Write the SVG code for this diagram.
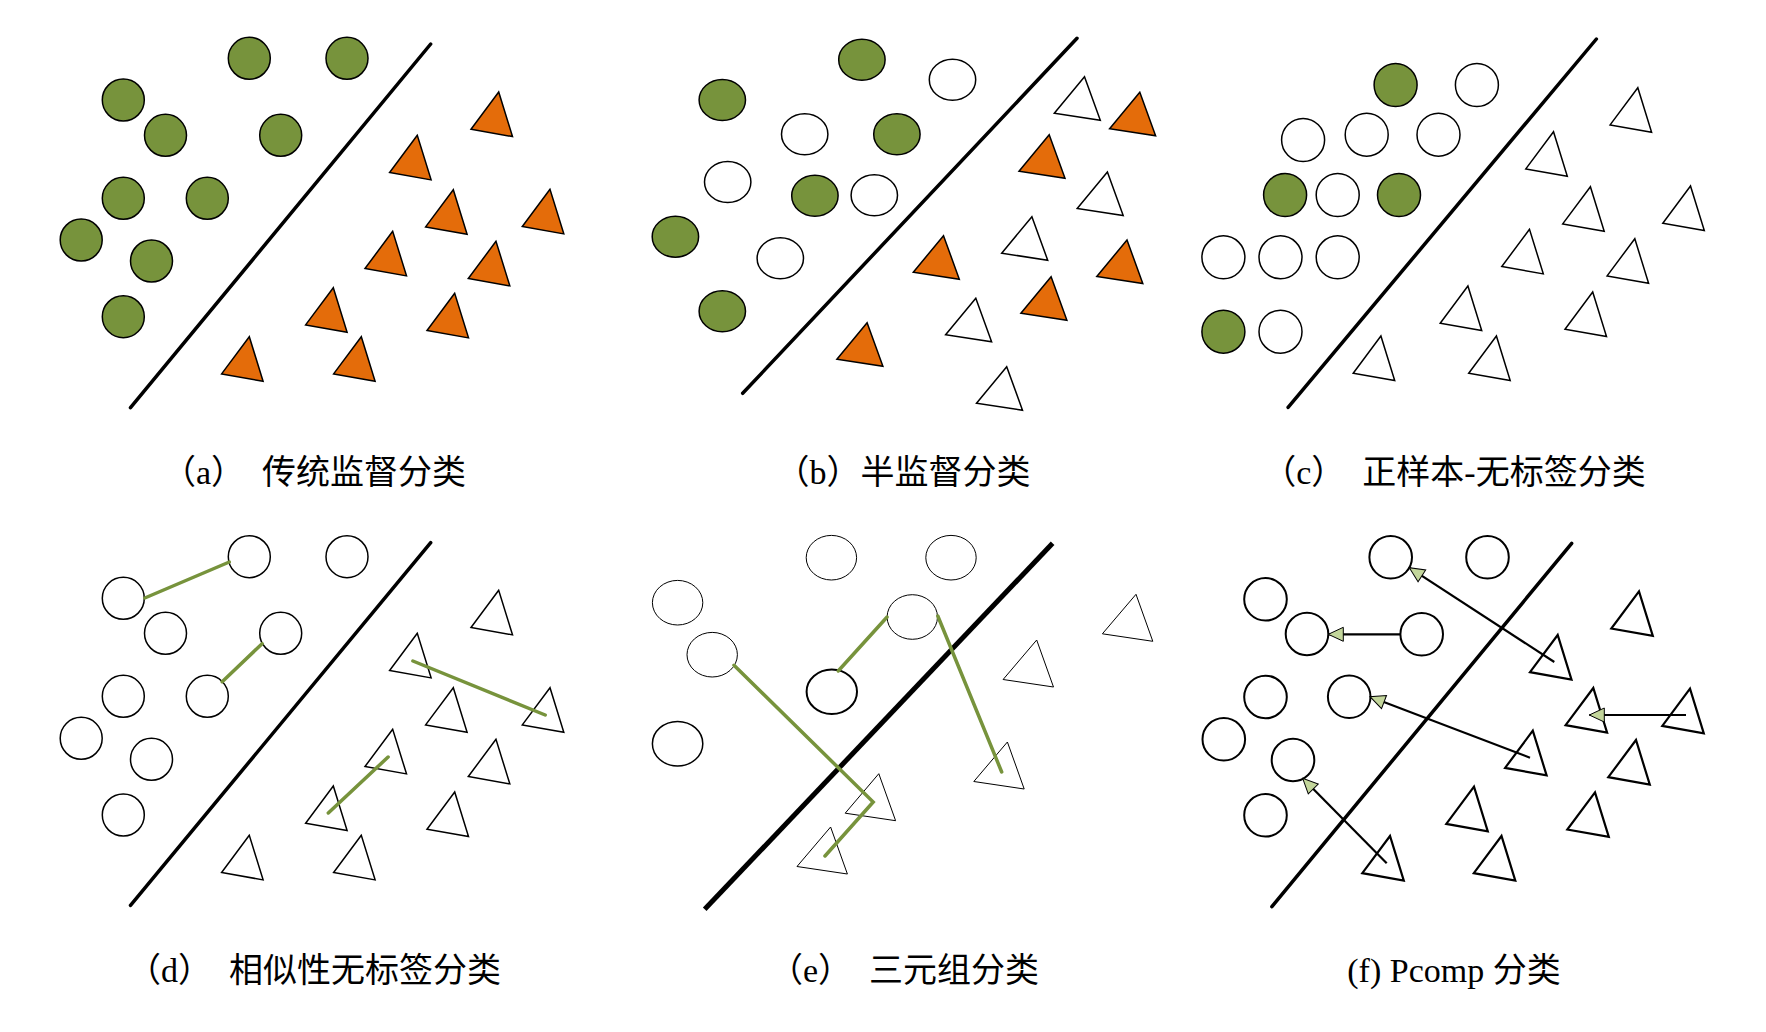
<svg xmlns="http://www.w3.org/2000/svg" width="1766" height="1032" viewBox="0 0 1766 1032">
<style>
.gc{fill:#77933C;stroke:#000;stroke-width:1.5}
.wc{fill:#fff;stroke:#000;stroke-width:1.5}
.wc1{fill:#fff;stroke:#000;stroke-width:1}
.wc2{fill:#fff;stroke:#000;stroke-width:2}
.ot{fill:#E46C0A;stroke:#000;stroke-width:1.5}
.wt{fill:#fff;stroke:#000;stroke-width:1.5}
.wt1{fill:#fff;stroke:#000;stroke-width:1}
.wt2{fill:#fff;stroke:#000;stroke-width:2.2}
.sep{stroke:#000;stroke-width:3.5;stroke-linecap:round;fill:none}
.sep5{stroke:#000;stroke-width:5;fill:none}
.gl{stroke:#77933C;stroke-width:3.5;stroke-linecap:round;stroke-linejoin:miter;fill:none}
.ar{stroke:#000;stroke-width:2.2;fill:none;marker-end:url(#ah)}
.cap{font-family:"Liberation Serif","Noto Sans CJK SC",serif;font-size:34px;fill:#000;text-anchor:middle}
</style>
<defs>
<path id="ta" d="M0,0 L-27.7,37.2 L13.8,44.6 Z"/>
<path id="tb" d="M0,0 L-30.2,36.5 L15.8,43.5 Z"/>
<path id="te" d="M0,0 L-33.6,39.5 L16.8,47 Z"/>
<marker id="ah" viewBox="0 0 17 16" refX="16" refY="8" markerWidth="17" markerHeight="16" markerUnits="userSpaceOnUse" orient="auto">
<path d="M1,1 L16,8 L1,15 Z" fill="#C3D69B" stroke="#000" stroke-width="1"/>
</marker>
</defs>
<rect width="1766" height="1032" fill="#fff"/>

<!-- Panel a -->
<g id="panel-a">
<g id="a-line"><line class="sep" x1="430.7" y1="44" x2="130.5" y2="407.7"/></g>
<g id="a-c1"><circle class="gc" cx="249.3" cy="58.3" r="21"/></g>
<g id="a-c2"><circle class="gc" cx="347" cy="58.3" r="21"/></g>
<g id="a-c3"><circle class="gc" cx="123.3" cy="100" r="21"/></g>
<g id="a-c4"><circle class="gc" cx="165.5" cy="135.3" r="21"/></g>
<g id="a-c5"><circle class="gc" cx="280.7" cy="135.3" r="21"/></g>
<g id="a-c6"><circle class="gc" cx="123.3" cy="198.3" r="21"/></g>
<g id="a-c7"><circle class="gc" cx="207.3" cy="198.3" r="21"/></g>
<g id="a-c8"><circle class="gc" cx="81.2" cy="240" r="21"/></g>
<g id="a-c9"><circle class="gc" cx="151.5" cy="261" r="21"/></g>
<g id="a-c10"><circle class="gc" cx="123.3" cy="316.7" r="21"/></g>
<g id="a-t1"><use href="#ta" class="ot" x="498.7" y="92"/></g>
<g id="a-t2"><use href="#ta" class="ot" x="417.3" y="135.3"/></g>
<g id="a-t3"><use href="#ta" class="ot" x="453.3" y="189.7"/></g>
<g id="a-t4"><use href="#ta" class="ot" x="550" y="189.3"/></g>
<g id="a-t5"><use href="#ta" class="ot" x="392.7" y="231.3"/></g>
<g id="a-t6"><use href="#ta" class="ot" x="496" y="241.3"/></g>
<g id="a-t7"><use href="#ta" class="ot" x="333.3" y="287.7"/></g>
<g id="a-t8"><use href="#ta" class="ot" x="454.7" y="293.3"/></g>
<g id="a-t9"><use href="#ta" class="ot" x="249.3" y="336.7"/></g>
<g id="a-t10"><use href="#ta" class="ot" x="361.3" y="336.7"/></g>
<g id="a-cap"><text class="cap" x="314" y="484">（a）&#160;&#160;传统监督分类</text></g>
</g>

<!-- Panel b -->
<g id="panel-b">
<g id="b-line"><line class="sep" x1="1077" y1="38.3" x2="742.7" y2="393.3"/></g>
<g id="b-c1"><ellipse class="gc" cx="861.9" cy="59.7" rx="23.2" ry="20.5"/></g>
<g id="b-c2"><ellipse class="wc" cx="952.5" cy="79.7" rx="23.2" ry="20.5"/></g>
<g id="b-c3"><ellipse class="gc" cx="722.3" cy="100" rx="23.2" ry="20.5"/></g>
<g id="b-c4"><ellipse class="wc" cx="804.7" cy="134.3" rx="23.2" ry="20.5"/></g>
<g id="b-c5"><ellipse class="gc" cx="896.9" cy="134.3" rx="23.2" ry="20.5"/></g>
<g id="b-c6"><ellipse class="wc" cx="727.7" cy="182" rx="23.2" ry="20.5"/></g>
<g id="b-c7"><ellipse class="gc" cx="814.9" cy="195.7" rx="23.2" ry="20.5"/></g>
<g id="b-c8"><ellipse class="wc" cx="874.3" cy="195.3" rx="23.2" ry="20.5"/></g>
<g id="b-c9"><ellipse class="gc" cx="675.4" cy="236.7" rx="23.2" ry="20.5"/></g>
<g id="b-c10"><ellipse class="wc" cx="780.3" cy="258.3" rx="23.2" ry="20.5"/></g>
<g id="b-c11"><ellipse class="gc" cx="722.3" cy="311.3" rx="23.2" ry="20.5"/></g>
<g id="b-t1"><use href="#tb" class="wt" x="1084.5" y="76.7"/></g>
<g id="b-t2"><use href="#tb" class="ot" x="1139.8" y="92.3"/></g>
<g id="b-t3"><use href="#tb" class="ot" x="1049.2" y="134.7"/></g>
<g id="b-t4"><use href="#tb" class="wt" x="1107.4" y="172"/></g>
<g id="b-t5"><use href="#tb" class="wt" x="1031.9" y="216.7"/></g>
<g id="b-t6"><use href="#tb" class="ot" x="943.5" y="235.7"/></g>
<g id="b-t7"><use href="#tb" class="ot" x="1127" y="240"/></g>
<g id="b-t8"><use href="#tb" class="ot" x="1051.1" y="276.7"/></g>
<g id="b-t9"><use href="#tb" class="wt" x="975.8" y="298.3"/></g>
<g id="b-t10"><use href="#tb" class="ot" x="867.1" y="322.7"/></g>
<g id="b-t11"><use href="#tb" class="wt" x="1006.7" y="366.7"/></g>
<g id="b-cap"><text class="cap" x="903" y="484">（b）半监督分类</text></g>
</g>

<!-- Panel c -->
<g id="panel-c">
<g id="c-line"><line class="sep" x1="1596.4" y1="39" x2="1288.1" y2="407.3"/></g>
<g id="c-c1"><circle class="gc" cx="1395.6" cy="85" r="21.5"/></g>
<g id="c-c2"><circle class="wc" cx="1476.9" cy="85" r="21.5"/></g>
<g id="c-c3"><circle class="wc" cx="1303.1" cy="140" r="21.5"/></g>
<g id="c-c4"><circle class="wc" cx="1366.7" cy="134.7" r="21.5"/></g>
<g id="c-c5"><circle class="wc" cx="1438.5" cy="134.7" r="21.5"/></g>
<g id="c-c6"><circle class="gc" cx="1285.1" cy="195" r="21.5"/></g>
<g id="c-c7"><circle class="wc" cx="1337.7" cy="195" r="21.5"/></g>
<g id="c-c8"><circle class="gc" cx="1399" cy="195" r="21.5"/></g>
<g id="c-c9"><circle class="wc" cx="1223.4" cy="257.3" r="21.5"/></g>
<g id="c-c10"><circle class="wc" cx="1280.5" cy="257.3" r="21.5"/></g>
<g id="c-c11"><circle class="wc" cx="1337.7" cy="257.3" r="21.5"/></g>
<g id="c-c12"><circle class="gc" cx="1223.4" cy="331.7" r="21.5"/></g>
<g id="c-c13"><circle class="wc" cx="1280.5" cy="331.7" r="21.5"/></g>
<g id="c-t1"><use href="#ta" class="wt" x="1637.8" y="87.7"/></g>
<g id="c-t2"><use href="#ta" class="wt" x="1553.5" y="131.7"/></g>
<g id="c-t3"><use href="#ta" class="wt" x="1590.4" y="186.7"/></g>
<g id="c-t4"><use href="#ta" class="wt" x="1690.5" y="186"/></g>
<g id="c-t5"><use href="#ta" class="wt" x="1529.5" y="229.3"/></g>
<g id="c-t6"><use href="#ta" class="wt" x="1634.8" y="238.7"/></g>
<g id="c-t7"><use href="#ta" class="wt" x="1467.9" y="286"/></g>
<g id="c-t8"><use href="#ta" class="wt" x="1592.7" y="292"/></g>
<g id="c-t9"><use href="#ta" class="wt" x="1380.9" y="336"/></g>
<g id="c-t10"><use href="#ta" class="wt" x="1496.4" y="336"/></g>
<g id="c-cap"><text class="cap" x="1454" y="484">（c）&#160;&#160;正样本-无标签分类</text></g>
</g>

<!-- Panel d -->
<g id="panel-d">
<g id="d-line"><line class="sep" x1="430.7" y1="542.7" x2="130.5" y2="905.3"/></g>
<g id="d-c1"><circle class="wc" cx="249.3" cy="556.7" r="21"/></g>
<g id="d-c2"><circle class="wc" cx="347" cy="556.7" r="21"/></g>
<g id="d-c3"><circle class="wc" cx="123.3" cy="598.3" r="21"/></g>
<g id="d-c4"><circle class="wc" cx="165.5" cy="633.3" r="21"/></g>
<g id="d-c5"><circle class="wc" cx="280.7" cy="633.3" r="21"/></g>
<g id="d-c6"><circle class="wc" cx="123.3" cy="696.3" r="21"/></g>
<g id="d-c7"><circle class="wc" cx="207.3" cy="696.3" r="21"/></g>
<g id="d-c8"><circle class="wc" cx="81.2" cy="738.3" r="21"/></g>
<g id="d-c9"><circle class="wc" cx="151.5" cy="759.3" r="21"/></g>
<g id="d-c10"><circle class="wc" cx="123.3" cy="815" r="21"/></g>
<g id="d-t1"><use href="#ta" class="wt" x="498.7" y="590.3"/></g>
<g id="d-t2"><use href="#ta" class="wt" x="417.3" y="633.3"/></g>
<g id="d-t3"><use href="#ta" class="wt" x="453.3" y="687.7"/></g>
<g id="d-t4"><use href="#ta" class="wt" x="550" y="687.7"/></g>
<g id="d-t5"><use href="#ta" class="wt" x="392.7" y="729.3"/></g>
<g id="d-t6"><use href="#ta" class="wt" x="496" y="739.3"/></g>
<g id="d-t7"><use href="#ta" class="wt" x="333.3" y="786"/></g>
<g id="d-t8"><use href="#ta" class="wt" x="454.7" y="792"/></g>
<g id="d-t9"><use href="#ta" class="wt" x="249.3" y="835.3"/></g>
<g id="d-t10"><use href="#ta" class="wt" x="361.3" y="835.3"/></g>
<g id="d-cap"><text class="cap" x="314" y="982">（d）&#160;&#160;相似性无标签分类</text></g>
</g>

<!-- Panel e -->
<g id="panel-e">
<g id="e-line"><line class="sep5" x1="1052.6" y1="543.3" x2="704.7" y2="909.3"/></g>
<g id="e-c1"><ellipse class="wc1" cx="831.4" cy="557.7" rx="25.2" ry="22.3"/></g>
<g id="e-c2"><ellipse class="wc1" cx="951" cy="557.7" rx="25.2" ry="22.3"/></g>
<g id="e-c3"><ellipse class="wc1" cx="677.6" cy="602.7" rx="25.2" ry="22.3"/></g>
<g id="e-c4"><ellipse class="wc1" cx="912.3" cy="617" rx="25.2" ry="22.3"/></g>
<g id="e-c5"><ellipse class="wc1" cx="712.2" cy="654.7" rx="25.2" ry="22.3"/></g>
<g id="e-c6"><ellipse class="wc2" cx="831.8" cy="691.7" rx="25.2" ry="22.3"/></g>
<g id="e-c7"><ellipse class="wc" cx="677.6" cy="743.7" rx="25.2" ry="22.3"/></g>
<g id="e-t1"><use href="#te" class="wt1" x="1136" y="594.3"/></g>
<g id="e-t2"><use href="#te" class="wt1" x="1036.7" y="640"/></g>
<g id="e-t3"><use href="#te" class="wt1" x="1007.4" y="742"/></g>
<g id="e-t4"><use href="#te" class="wt1" x="878.8" y="773.7"/></g>
<g id="e-t5"><use href="#te" class="wt1" x="830.6" y="827"/></g>
<g id="e-cap"><text class="cap" x="904" y="982">（e）&#160;&#160;三元组分类</text></g>
</g>

<!-- Panel f -->
<g id="panel-f">
<g id="f-line"><line class="sep" x1="1571.7" y1="543.3" x2="1271.9" y2="906.7"/></g>
<g id="f-c1"><circle class="wc2" cx="1390.7" cy="557.3" r="21.3"/></g>
<g id="f-c2"><circle class="wc2" cx="1487.5" cy="557.3" r="21.3"/></g>
<g id="f-c3"><circle class="wc2" cx="1265.5" cy="599.3" r="21.3"/></g>
<g id="f-c4"><circle class="wc2" cx="1307" cy="634" r="21.3"/></g>
<g id="f-c5"><circle class="wc2" cx="1421.7" cy="634.3" r="21.3"/></g>
<g id="f-c6"><circle class="wc2" cx="1265.5" cy="697" r="21.3"/></g>
<g id="f-c7"><circle class="wc2" cx="1349.2" cy="696.8" r="21.3"/></g>
<g id="f-c8"><circle class="wc2" cx="1223.8" cy="739.3" r="21.3"/></g>
<g id="f-c9"><circle class="wc2" cx="1293" cy="760" r="21.3"/></g>
<g id="f-c10"><circle class="wc2" cx="1265.5" cy="815.3" r="21.3"/></g>
<g id="f-t1"><use href="#ta" class="wt2" x="1639" y="591.3"/></g>
<g id="f-t2"><use href="#ta" class="wt2" x="1557.7" y="635"/></g>
<g id="f-t3"><use href="#ta" class="wt2" x="1593.3" y="688"/></g>
<g id="f-t4"><use href="#ta" class="wt2" x="1690" y="688.7"/></g>
<g id="f-t5"><use href="#ta" class="wt2" x="1532.8" y="730.7"/></g>
<g id="f-t6"><use href="#ta" class="wt2" x="1636" y="740"/></g>
<g id="f-t7"><use href="#ta" class="wt2" x="1474" y="786.7"/></g>
<g id="f-t8"><use href="#ta" class="wt2" x="1595" y="792.3"/></g>
<g id="f-t9"><use href="#ta" class="wt2" x="1390" y="836"/></g>
<g id="f-t10"><use href="#ta" class="wt2" x="1501.5" y="836"/></g>
<g id="f-cap"><text class="cap" x="1454" y="982">(f) Pcomp 分类</text></g>
</g>

<!-- Connectors -->
<g id="connectors">
<line class="gl" x1="144.8" y1="598" x2="229.3" y2="562"/>
<line class="gl" x1="222.2" y1="681.7" x2="262.1" y2="643.7"/>
<line class="gl" x1="412.9" y1="661" x2="545.2" y2="715"/>
<line class="gl" x1="328.3" y1="813" x2="388.1" y2="757"/>
<polyline class="gl" points="734,665.3 873.2,802 825,856"/>
<line class="gl" x1="838.2" y1="671" x2="887.1" y2="617"/>
<line class="gl" x1="937.8" y1="616" x2="1001.7" y2="772"/>
<line class="ar" x1="1554.3" y1="662" x2="1409.3" y2="567.7"/>
<line class="ar" x1="1400" y1="634.3" x2="1328.3" y2="634.3"/>
<line class="ar" x1="1530" y1="757.7" x2="1370" y2="696.7"/>
<line class="ar" x1="1686" y1="715" x2="1589.3" y2="715"/>
<line class="ar" x1="1386.7" y1="863.3" x2="1302.7" y2="778.3"/>
</g>
</svg>
